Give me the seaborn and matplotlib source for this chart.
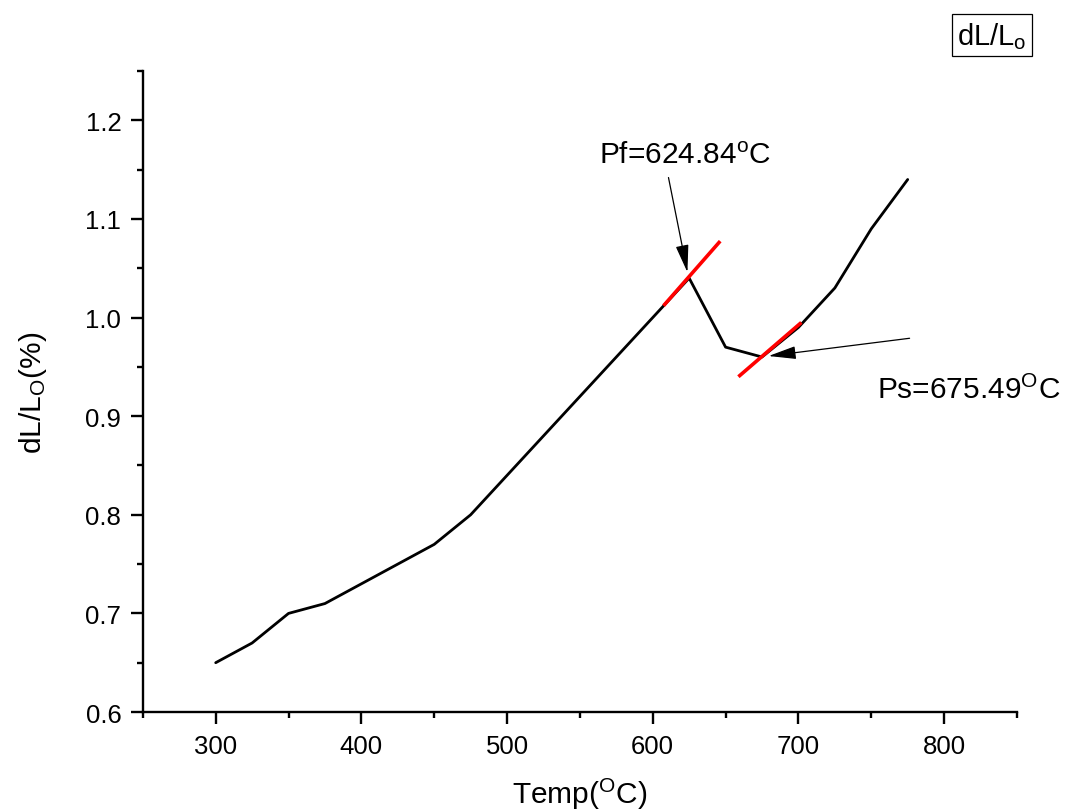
import matplotlib
matplotlib.use("Agg")
import matplotlib.pyplot as plt
import seaborn as sns
import pandas as pd
from matplotlib.ticker import MultipleLocator

temp = [300, 325, 350, 375, 400, 425, 450, 475, 500, 525, 550, 575, 600, 625, 650, 675, 700, 725, 750, 775]
dl = [0.65, 0.67, 0.70, 0.71, 0.73, 0.75, 0.77, 0.80, 0.84, 0.88, 0.92, 0.96, 1.00, 1.04, 0.97, 0.96, 0.99, 1.03, 1.09, 1.14]

tangent1_x = [607.4, 646.3]
tangent1_y = [1.012, 1.0775]
tangent2_x = [658.8, 702.0]
tangent2_y = [0.940, 0.995]

pf_label = "Pf=624.84$^{\\rm o}$C"
ps_label = "Ps=675.49$^{\\rm O}$C"

sns.set_style("ticks")
plt.rcParams['font.family'] = ['Liberation Sans', 'DejaVu Sans']
plt.rcParams['mathtext.fontset'] = 'custom'
plt.rcParams['mathtext.rm'] = 'Liberation Sans'
plt.rcParams['mathtext.it'] = 'Liberation Sans'
plt.rcParams['text.color'] = 'black'
plt.rcParams['axes.labelcolor'] = 'black'

fig = plt.figure(figsize=(10.66, 8.12), dpi=100)
ax = fig.add_axes([0.134, 0.1219, 0.820, 0.7894])

df = pd.DataFrame({"Temp": temp, "dL": dl})
sns.lineplot(data=df, x="Temp", y="dL", ax=ax, color="black", linewidth=2.0)
ax.plot(tangent1_x, tangent1_y, color="red", linewidth=2.6, solid_capstyle="butt")
ax.plot(tangent2_x, tangent2_y, color="red", linewidth=2.6, solid_capstyle="butt")

ax.set_xlim(250, 850)
ax.set_ylim(0.6, 1.25)
ax.xaxis.set_minor_locator(MultipleLocator(50))
ax.yaxis.set_minor_locator(MultipleLocator(0.05))
ax.set_xticks([300, 400, 500, 600, 700, 800])
ax.set_yticks([0.6, 0.7, 0.8, 0.9, 1.0, 1.1, 1.2])
ax.set_yticklabels(["0.6", "0.7", "0.8", "0.9", "1.0", "1.1", "1.2"])

for s in ["top", "right"]:
    ax.spines[s].set_visible(False)
for s in ["left", "bottom"]:
    ax.spines[s].set_linewidth(1.7)
    ax.spines[s].set_color("black")

ax.tick_params(axis="both", which="major", direction="out", length=8.5, width=1.7, labelsize=18.5, colors="black", pad=7)
ax.tick_params(axis="both", which="minor", direction="out", length=4.5, width=1.7, colors="black")

ax.set_xlabel("Temp($^{\\rm O}$C)", fontsize=21.5, labelpad=13)
ax.set_ylabel("dL/L$_{\\rm O}$(%)", fontsize=21.5, labelpad=26)

arrow_style = dict(arrowstyle="-|>,head_length=0.85,head_width=0.2", color="black", lw=0.9,
                   mutation_scale=20, shrinkA=0, shrinkB=0)
ax.annotate("", xy=(623.8, 1.046), xytext=(610.8, 1.142), arrowprops=arrow_style)
ax.text(563, 1.165, pf_label, fontsize=21.5, ha="left", va="center")
ax.annotate("", xy=(679.5, 0.961), xytext=(776.3, 0.979), arrowprops=arrow_style)
ax.text(754, 0.927, ps_label, fontsize=21.5, ha="left", va="center")

fig.text(0.9305, 0.9555, "dL/L$_{\\rm o}$", fontsize=21, ha="center", va="center",
         bbox=dict(boxstyle="square,pad=0.18", facecolor="white", edgecolor="black", linewidth=0.9))

fig.savefig("out.png", dpi=100, facecolor="white")
